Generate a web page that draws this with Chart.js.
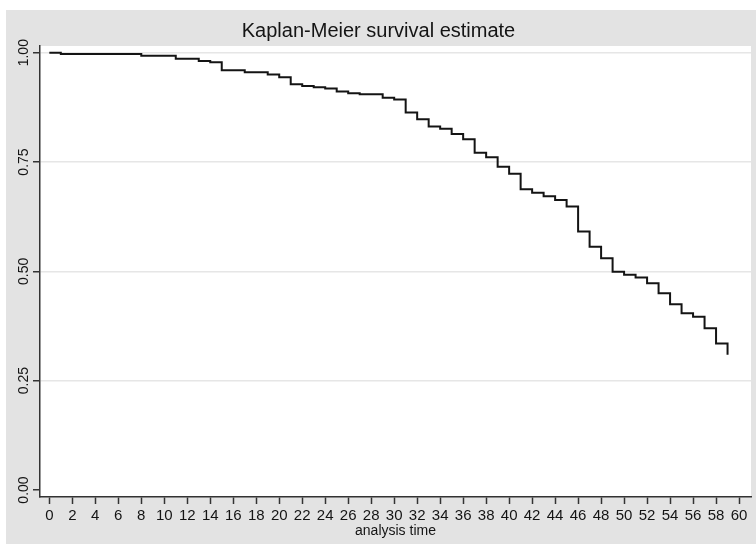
<!DOCTYPE html>
<html>
<head>
<meta charset="utf-8">
<script src="https://cdn.jsdelivr.net/npm/chart.js@4.4.1/dist/chart.umd.min.js"></script>
<style>
  html, body { margin: 0; padding: 0; background: #fff; }
  #wrap { width: 756px; height: 544px; }
</style>
</head>
<body>
<div id="wrap"><canvas id="kmChart" width="756" height="544"></canvas></div>
<script>
// Kaplan-Meier estimate: event times and survival after each step
const timeValues = [0, 1, 8, 11, 13, 14, 15, 17, 19, 20, 21, 22, 23, 24, 25, 26, 27, 29, 30,
  31, 32, 33, 34, 35, 36, 37, 38, 39, 40, 41, 42, 43, 44, 45, 46, 47, 48, 49, 50, 51, 52,
  53, 54, 55, 56, 57, 58, 59];
const survivalValues = [1.0, 0.997, 0.993, 0.986, 0.981, 0.978, 0.960, 0.955, 0.950, 0.944,
  0.928, 0.924, 0.921, 0.918, 0.911, 0.907, 0.905, 0.897, 0.893, 0.863, 0.848, 0.831, 0.826,
  0.814, 0.802, 0.771, 0.761, 0.739, 0.723, 0.688, 0.680, 0.672, 0.663, 0.648, 0.591, 0.556,
  0.530, 0.499, 0.492, 0.486, 0.473, 0.450, 0.425, 0.404, 0.396, 0.370, 0.335, 0.309];

const xTickValues = [0, 2, 4, 6, 8, 10, 12, 14, 16, 18, 20, 22, 24, 26, 28, 30, 32, 34, 36,
  38, 40, 42, 44, 46, 48, 50, 52, 54, 56, 58, 60];
const yTickValues = [0, 0.25, 0.5, 0.75, 1];
const yTickLabels = ['0.00', '0.25', '0.50', '0.75', '1.00'];

const FONT = 'Liberation Sans, Arial, sans-serif';
const INK = '#141414';

const paperPlugin = {
  id: 'paper',
  beforeDraw(chart) {
    const { ctx, chartArea: a } = chart;
    ctx.save();
    ctx.fillStyle = '#e3e3e3';
    ctx.fillRect(6, 10, chart.width - 6, chart.height - 10);
    ctx.fillStyle = '#ffffff';
    ctx.fillRect(a.left, a.top, a.right - a.left, a.bottom - a.top);
    ctx.restore();
  }
};

const points = timeValues.map((t, i) => ({ x: t, y: survivalValues[i] }));

new Chart(document.getElementById('kmChart'), {
  type: 'line',
  data: {
    datasets: [{
      label: 'Survivor function',
      data: points,
      stepped: true,
      borderColor: INK,
      borderWidth: 2,
      pointRadius: 0,
      fill: false
    }]
  },
  options: {
    responsive: false,
    animation: false,
    layout: { padding: { left: 6, right: 5, top: 10, bottom: 0 } },
    plugins: {
      legend: { display: false },
      tooltip: { enabled: false },
      title: {
        display: true,
        text: 'Kaplan-Meier survival estimate',
        color: INK,
        font: { family: FONT, size: 20, weight: 'normal' },
        padding: { top: 9, bottom: 3 }
      }
    },
    scales: {
      x: {
        type: 'linear',
        min: -0.81,
        max: 61.04,
        afterBuildTicks(scale) {
          scale.ticks = xTickValues.map(v => ({ value: v }));
        },
        afterFit(scale) {
          scale.height = 47;
        },
        ticks: {
          autoSkip: false,
          maxRotation: 0,
          color: INK,
          padding: 3,
          font: { family: FONT, size: 15 }
        },
        grid: {
          drawOnChartArea: false,
          tickLength: 7,
          tickColor: '#333',
          tickWidth: 1.5
        },
        border: { color: '#333', width: 1.5 },
        title: {
          display: true,
          text: 'analysis time',
          color: INK,
          font: { family: FONT, size: 14 },
          padding: { top: 0, bottom: 4 }
        }
      },
      y: {
        min: -0.016,
        max: 1.0153,
        afterBuildTicks(scale) {
          scale.ticks = yTickValues.map(v => ({ value: v }));
        },
        afterFit(scale) {
          scale.width = 34;
        },
        ticks: {
          minRotation: 90,
          maxRotation: 90,
          crossAlign: 'center',
          padding: -5,
          color: INK,
          font: { family: FONT, size: 14 },
          callback(value) {
            const i = yTickValues.indexOf(value);
            return i >= 0 ? yTickLabels[i] : '';
          }
        },
        grid: {
          color: ctx => (ctx.tick && ctx.tick.value === 0 ? 'rgba(0,0,0,0)' : '#e6e6e6'),
          lineWidth: 1.5,
          tickLength: 7,
          tickColor: '#333',
          tickWidth: 1.5
        },
        border: { color: '#333', width: 1.5 }
      }
    }
  },
  plugins: [paperPlugin]
});
</script>
</body>
</html>
